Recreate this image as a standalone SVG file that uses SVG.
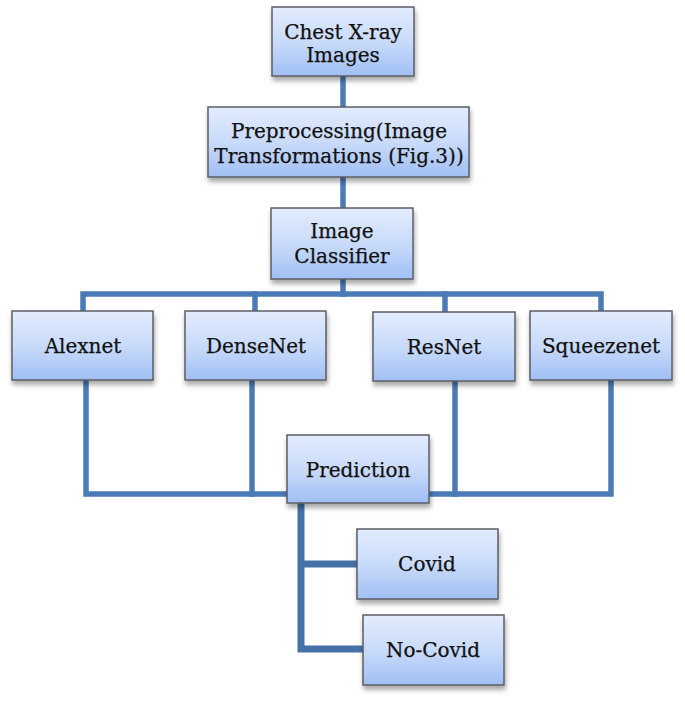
<svg xmlns="http://www.w3.org/2000/svg" width="685" height="703" viewBox="0 0 685 703">
<defs>
<linearGradient id="g" x1="0" y1="0" x2="0" y2="1">
<stop offset="0" stop-color="#e2ecfd"/>
<stop offset="0.5" stop-color="#c9dbfa"/>
<stop offset="1" stop-color="#a0bff4"/>
</linearGradient>
<filter id="sh" x="-10%" y="-10%" width="125%" height="135%">
<feDropShadow dx="1" dy="4" stdDeviation="2.5" flood-color="#000" flood-opacity="0.35"/>
</filter>
<style>
.box{fill:url(#g);stroke:#5b5e66;stroke-width:1.5;filter:url(#sh)}
.t{font-family:"DejaVu Serif","Liberation Serif",serif;font-size:20px;fill:#111;text-anchor:middle;stroke:#111;stroke-width:0.25}
.c{fill:none;stroke:#4a7bb7;stroke-width:5.5;stroke-linecap:square;stroke-linejoin:miter}
.c2{fill:none;stroke:#4671a8;stroke-width:7;stroke-linejoin:miter}
</style>
</defs>
<g id="connectors">
<path class="c" d="M343 76V107"/>
<path class="c" d="M343 177V208"/>
<path class="c" d="M343 279V294"/>
<path class="c" d="M83 310V294H601V310"/>
<path class="c" d="M255 294V310"/>
<path class="c" d="M445 294V310"/>
<path class="c" d="M86 380V494H287"/>
<path class="c" d="M252 380V494"/>
<path class="c" d="M429 494H611V380"/>
<path class="c" d="M455 381V494"/>
<path class="c2" d="M301 503V649H363"/>
<path class="c2" d="M301 564H357"/>
</g>
<g id="chest">
<rect class="box" x="272" y="7" width="142" height="69"/>
<text class="t" x="343" y="39">Chest X-ray</text>
<text class="t" x="343" y="62">Images</text>
</g>
<g id="preprocessing">
<rect class="box" x="208" y="107" width="261" height="70"/>
<text class="t" x="339" y="138">Preprocessing(Image</text>
<text class="t" x="339" y="163">Transformations (Fig.3))</text>
</g>
<g id="classifier">
<rect class="box" x="271" y="208" width="142" height="71"/>
<text class="t" x="342" y="238">Image</text>
<text class="t" x="342" y="263">Classifier</text>
</g>
<g id="alexnet">
<rect class="box" x="12" y="311" width="141" height="69"/>
<text class="t" x="83" y="353">Alexnet</text>
</g>
<g id="densenet">
<rect class="box" x="185" y="311" width="141" height="69"/>
<text class="t" x="256" y="353">DenseNet</text>
</g>
<g id="resnet">
<rect class="box" x="373" y="312" width="142" height="69"/>
<text class="t" x="444" y="354">ResNet</text>
</g>
<g id="squeezenet">
<rect class="box" x="530" y="311" width="142" height="69"/>
<text class="t" x="601" y="353">Squeezenet</text>
</g>
<g id="prediction">
<rect class="box" x="287" y="435" width="142" height="68"/>
<text class="t" x="358" y="477">Prediction</text>
</g>
<g id="covid">
<rect class="box" x="357" y="529" width="141" height="70"/>
<text class="t" x="427" y="571">Covid</text>
</g>
<g id="nocovid">
<rect class="box" x="363" y="615" width="141" height="70"/>
<text class="t" x="433" y="657">No-Covid</text>
</g>
</svg>
